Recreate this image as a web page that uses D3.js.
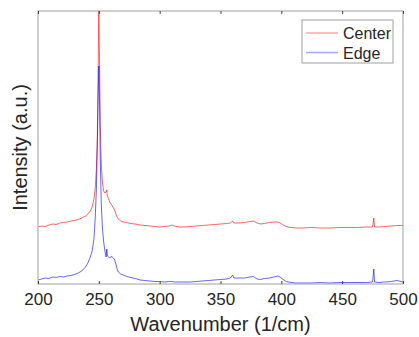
<!DOCTYPE html>
<html>
<head>
<meta charset="utf-8">
<script src="https://cdn.jsdelivr.net/npm/d3@7"></script>
<style>
  body { margin: 0; background: #fff; }
  text { font-family: 'Liberation Sans', Arial, sans-serif; fill: #262626; }
</style>
</head>
<body>
<div id="chart"></div>
<script>
const wavenumbers = [200, 203, 206, 209, 212, 215, 218, 221, 224, 227, 230, 233, 236, 239, 241, 243, 244.5, 246, 247, 248,
  248.8, 249.4, 250, 250.6, 251.2, 252, 253, 254, 255, 256, 256.5, 257, 258, 259, 260, 261, 262, 263, 264, 265,
  266, 268, 270, 273, 276, 280, 284, 288, 292, 296, 300, 304, 308, 310, 312, 316, 320, 325, 330, 335,
  340, 345, 350, 355, 358, 360, 361, 365, 370, 374, 377, 380, 383, 386, 390, 394, 397, 399, 401, 404,
  408, 412, 418, 425, 432, 440, 447, 455, 462, 470, 475, 476, 476.6, 480, 485, 490, 495, 500];

const centerValues = [57, 58, 57.5, 59, 60, 59.5, 61, 61.5, 62, 63, 63.5, 64.5, 66, 68, 70, 73, 77, 85, 95, 115,
  150, 210, 273, 220, 160, 120, 101, 93, 91, 92, 94, 88, 85, 82, 80, 78, 76, 74, 70, 67,
  65, 63, 62, 61.5, 60.5, 60, 59, 58.5, 58, 57.5, 57, 57.5, 58, 59, 58, 57, 57, 57.5, 58, 58.5,
  59, 59.5, 60, 60.5, 61, 63, 61, 61, 61.5, 62.5, 63, 61, 60, 60.5, 61.5, 62, 62, 61, 59.5, 57.5,
  56.5, 56, 56, 56.5, 56, 56, 56.5, 56.5, 56.5, 57, 57, 66, 57, 57, 57.5, 58, 58.5, 58.5];

const edgeValues = [4, 5, 6, 5.5, 7, 6.5, 7.5, 7, 8, 8.5, 9.5, 11, 13, 17, 21, 27, 33, 45, 65, 95,
  140, 185, 218, 180, 125, 80, 55, 42, 33, 27, 35, 28, 27, 26, 27.5, 27, 26, 24, 20, 15,
  12, 10, 9, 7.5, 6.5, 5.5, 4, 3.5, 3, 2.5, 2.5, 2, 2.5, 2.5, 2, 2, 2, 2, 2.5, 3,
  3.5, 4, 4.5, 5, 6, 9, 6, 6, 6, 7, 7.5, 5, 4.5, 5.5, 6, 7, 8, 7, 5, 2.5,
  1.5, 1, 1, 1, 1.5, 1, 1.5, 1.5, 1.5, 1.5, 2, 15, 2, 1.5, 2, 2.5, 3.5, 2];

const xTicks = [200, 250, 300, 350, 400, 450, 500];
const seriesNames = ['Center', 'Edge'];
const seriesColors = ['rgba(255,0,0,0.6)', 'rgba(0,0,255,0.6)'];
const legendColors = ['rgba(255,0,0,0.35)', 'rgba(0,0,255,0.35)'];

const width = 419;
const height = 337;
const margin = { top: 11, right: 16, bottom: 53, left: 38 };

const svg = d3.select('#chart')
  .append('svg')
  .attr('width', width)
  .attr('height', height);

const xScale = d3.scaleLinear()
  .domain([200, 500])
  .range([margin.left, width - margin.right]);

const yScale = d3.scaleLinear()
  .domain([0, d3.max(centerValues)])
  .range([height - margin.bottom, margin.top]);

const plotH = height - margin.bottom - margin.top;

// traces
const line = d3.line()
  .x((d) => xScale(d[0]))
  .y((d) => yScale(d[1]));

[centerValues, edgeValues].forEach((vals, i) => {
  svg.append('path')
    .datum(wavenumbers.map((w, j) => [w, vals[j]]))
    .attr('fill', 'none')
    .attr('stroke', seriesColors[i])
    .attr('stroke-width', 1)
    .attr('d', line);
});

// box
svg.append('rect')
  .attr('x', margin.left)
  .attr('y', margin.top)
  .attr('width', width - margin.left - margin.right)
  .attr('height', plotH)
  .attr('fill', 'none')
  .attr('stroke', '#a0a0a0')
  .attr('stroke-width', 1);

// bottom axis
const xAxis = d3.axisBottom(xScale)
  .tickValues(xTicks)
  .tickSizeInner(-3)
  .tickSizeOuter(0)
  .tickPadding(9);

const gx = svg.append('g')
  .attr('transform', `translate(0 ${height - margin.bottom})`)
  .call(xAxis);
gx.select('.domain').remove();
gx.selectAll('line').attr('stroke', '#404040');
gx.selectAll('text')
  .style('font-size', '17px')
  .style('font-family', "'Liberation Sans', Arial, sans-serif")
  .attr('fill', '#262626');

// top ticks
const gt = svg.append('g')
  .attr('transform', `translate(0 ${margin.top})`)
  .call(d3.axisTop(xScale).tickValues(xTicks).tickSizeInner(-3).tickSizeOuter(0).tickFormat(''));
gt.select('.domain').remove();
gt.selectAll('line').attr('stroke', '#404040');

// x axis title
svg.append('text')
  .attr('x', (margin.left + width - margin.right) / 2)
  .attr('y', 331)
  .attr('text-anchor', 'middle')
  .style('font-size', '20px')
  .text('Wavenumber (1/cm)');

// y axis title
svg.append('text')
  .attr('transform', `translate(27 ${margin.top + plotH / 2})rotate(-90)`)
  .attr('text-anchor', 'middle')
  .style('font-size', '20px')
  .text('Intensity (a.u.)');

// legend
const legend = svg.append('g')
  .attr('transform', 'translate(302 20)');

legend.append('rect')
  .attr('width', 91)
  .attr('height', 43)
  .attr('fill', '#fff')
  .attr('stroke', '#a0a0a0')
  .attr('stroke-width', 1);

seriesNames.forEach((name, i) => {
  const ly = 13 + i * 19.5;
  legend.append('line')
    .attr('x1', 4)
    .attr('x2', 36)
    .attr('y1', ly)
    .attr('y2', ly)
    .attr('stroke', legendColors[i])
    .attr('stroke-width', 1.5);
  legend.append('text')
    .attr('x', 41)
    .attr('y', ly + 6)
    .style('font-size', '16px')
    .text(name);
});
</script>
</body>
</html>
